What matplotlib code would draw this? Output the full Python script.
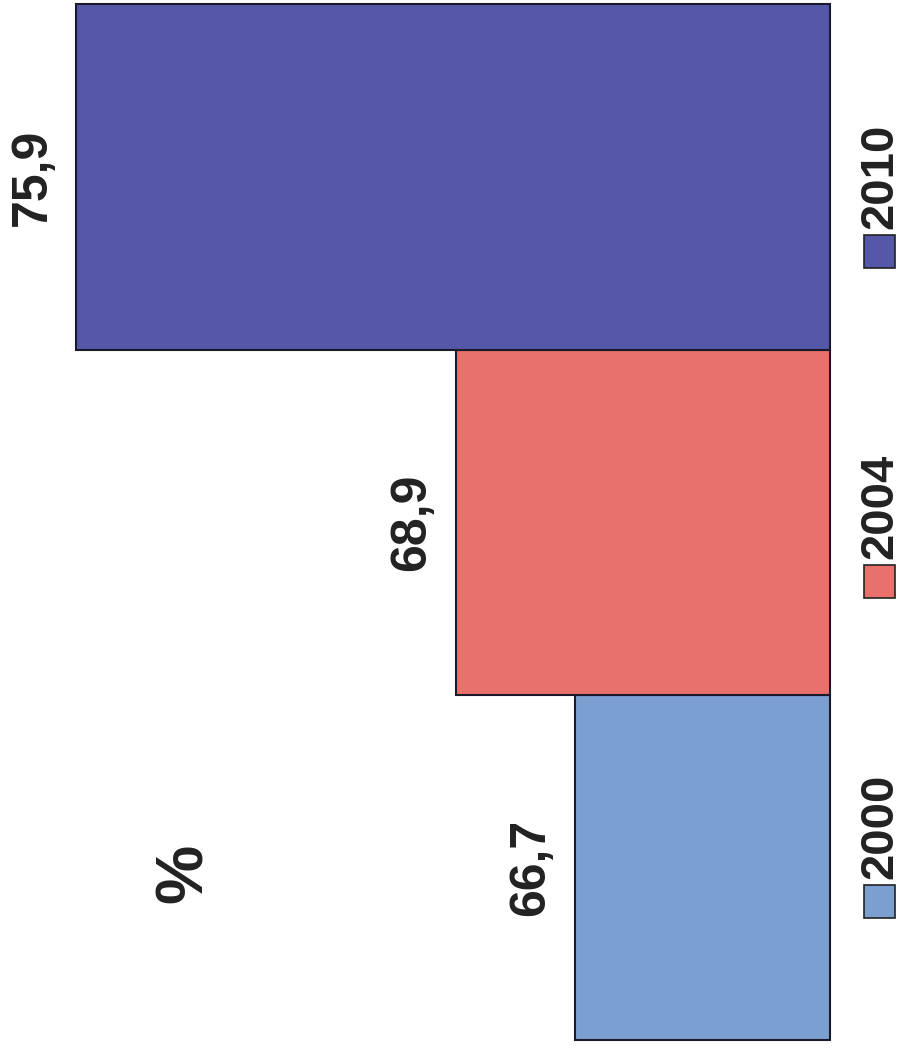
import matplotlib.pyplot as plt
from matplotlib.patches import Rectangle

years = ['2000', '2004', '2010']
values = [66.7, 68.9, 75.9]
labels = ['66,7', '68,9', '75,9']
colors = ['#7b9fd0', '#e8716b', '#5557a8']
base = 62.0

plt.rcParams['font.family'] = ['Liberation Sans', 'DejaVu Sans']
plt.rcParams['font.weight'] = 'bold'

fig = plt.figure(figsize=(9.01, 10.5), dpi=100)
ax = fig.add_axes([0, 0, 1, 1])

pos = list(range(len(years)))
ax.barh(pos, [v - base for v in values], left=base, height=1.0,
        color=colors, edgecolor='#1a1a2a', linewidth=1.5)

# value labels, rotated like the scanned page
for p, v, lab in zip(pos, values, labels):
    ax.text(v + 0.8, p, lab, rotation=90, ha='center', va='center',
            fontsize=36, color='#222222')

ax.set_xlim(77.3, 60.69)
ax.set_ylim(-0.53, 2.513)
ax.axis('off')

# unit label
fig.text(185 / 901, 1 - 873 / 1050, '%', rotation=90, ha='center', va='center',
         fontsize=48, color='#222222')

# legend drawn by hand (rotated)
sq_y = [885, 565, 235]
for yr, c, sy in zip(years, colors, sq_y):
    fig.patches.append(Rectangle((864 / 901, 1 - (sy + 33) / 1050), 31 / 901, 33 / 1050,
                                 transform=fig.transFigure, facecolor=c,
                                 edgecolor='#222222', linewidth=1.2))
    fig.text(880 / 901, 1 - (sy - 6) / 1050, yr, rotation=90, ha='center', va='bottom',
             fontsize=34, color='#222222')

fig.savefig('out.png', dpi=100)
